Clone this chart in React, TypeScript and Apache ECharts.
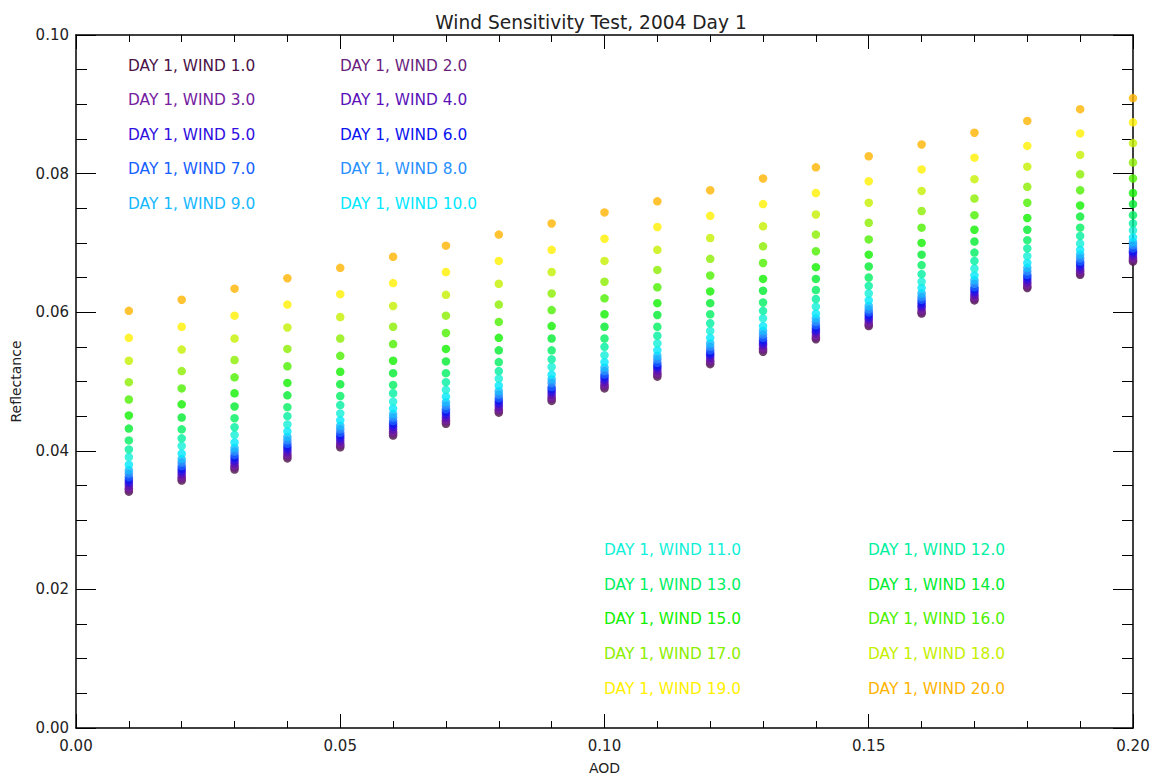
import React, { useEffect, useRef } from "react";
import * as echarts from "echarts";

const titleText = "Wind Sensitivity Test, 2004 Day 1";
const xAxisName = "AOD";
const yAxisName = "Reflectance";

const aodValues = [0.01, 0.02, 0.03, 0.04, 0.05, 0.06, 0.07, 0.08, 0.09, 0.10, 0.11, 0.12, 0.13, 0.14, 0.15, 0.16, 0.17, 0.18, 0.19, 0.20];
const windSpeeds = [1, 2, 3, 4, 5, 6, 7, 8, 9, 10, 11, 12, 13, 14, 15, 16, 17, 18, 19, 20];

const wind01 = [0.0341, 0.0357, 0.0373, 0.0389, 0.0405, 0.0422, 0.0439, 0.0455, 0.0472, 0.0490, 0.0507, 0.0525, 0.0543, 0.0561, 0.0580, 0.0598, 0.0617, 0.0635, 0.0654, 0.0673];
const wind02 = [0.0344, 0.0360, 0.0376, 0.0392, 0.0408, 0.0425, 0.0442, 0.0458, 0.0475, 0.0493, 0.0510, 0.0528, 0.0546, 0.0563, 0.0582, 0.0600, 0.0619, 0.0637, 0.0656, 0.0675];
const wind03 = [0.0346, 0.0362, 0.0378, 0.0394, 0.0410, 0.0427, 0.0444, 0.0460, 0.0477, 0.0495, 0.0512, 0.0530, 0.0548, 0.0566, 0.0585, 0.0603, 0.0622, 0.0640, 0.0659, 0.0678];
const wind04 = [0.0350, 0.0366, 0.0382, 0.0398, 0.0414, 0.0431, 0.0448, 0.0464, 0.0481, 0.0499, 0.0516, 0.0534, 0.0552, 0.0570, 0.0589, 0.0607, 0.0625, 0.0643, 0.0662, 0.0681];
const wind05 = [0.0354, 0.0370, 0.0386, 0.0402, 0.0418, 0.0435, 0.0452, 0.0468, 0.0485, 0.0503, 0.0520, 0.0538, 0.0555, 0.0573, 0.0592, 0.0610, 0.0629, 0.0647, 0.0666, 0.0685];
const wind06 = [0.0358, 0.0374, 0.0390, 0.0406, 0.0422, 0.0439, 0.0456, 0.0472, 0.0489, 0.0507, 0.0523, 0.0541, 0.0559, 0.0577, 0.0596, 0.0614, 0.0633, 0.0651, 0.0670, 0.0688];
const wind07 = [0.0362, 0.0378, 0.0394, 0.0410, 0.0426, 0.0443, 0.0460, 0.0476, 0.0492, 0.0510, 0.0527, 0.0545, 0.0563, 0.0581, 0.0600, 0.0618, 0.0636, 0.0654, 0.0673, 0.0692];
const wind08 = [0.0367, 0.0383, 0.0399, 0.0415, 0.0431, 0.0448, 0.0465, 0.0481, 0.0498, 0.0515, 0.0532, 0.0550, 0.0568, 0.0586, 0.0604, 0.0622, 0.0641, 0.0659, 0.0678, 0.0697];
const wind09 = [0.0372, 0.0388, 0.0404, 0.0420, 0.0436, 0.0453, 0.0470, 0.0486, 0.0503, 0.0520, 0.0537, 0.0555, 0.0573, 0.0591, 0.0609, 0.0627, 0.0646, 0.0664, 0.0683, 0.0701];
const wind10 = [0.0380, 0.0396, 0.0412, 0.0428, 0.0444, 0.0461, 0.0478, 0.0494, 0.0510, 0.0528, 0.0545, 0.0563, 0.0580, 0.0598, 0.0617, 0.0635, 0.0653, 0.0671, 0.0690, 0.0708];
const wind11 = [0.0391, 0.0407, 0.0423, 0.0438, 0.0454, 0.0471, 0.0488, 0.0504, 0.0521, 0.0538, 0.0555, 0.0573, 0.0591, 0.0608, 0.0627, 0.0644, 0.0663, 0.0681, 0.0699, 0.0718];
const wind12 = [0.0402, 0.0418, 0.0434, 0.0450, 0.0466, 0.0483, 0.0499, 0.0515, 0.0532, 0.0550, 0.0566, 0.0584, 0.0602, 0.0619, 0.0638, 0.0655, 0.0674, 0.0692, 0.0710, 0.0728];
const wind13 = [0.0415, 0.0431, 0.0447, 0.0463, 0.0479, 0.0495, 0.0512, 0.0528, 0.0545, 0.0562, 0.0579, 0.0597, 0.0614, 0.0632, 0.0650, 0.0668, 0.0686, 0.0704, 0.0722, 0.0740];
const wind14 = [0.0432, 0.0448, 0.0464, 0.0480, 0.0496, 0.0512, 0.0529, 0.0545, 0.0562, 0.0579, 0.0596, 0.0613, 0.0631, 0.0648, 0.0666, 0.0683, 0.0702, 0.0719, 0.0738, 0.0756];
const wind15 = [0.0451, 0.0467, 0.0483, 0.0498, 0.0514, 0.0530, 0.0547, 0.0563, 0.0580, 0.0597, 0.0613, 0.0630, 0.0648, 0.0665, 0.0683, 0.0700, 0.0719, 0.0736, 0.0754, 0.0772];
const wind16 = [0.0474, 0.0490, 0.0506, 0.0522, 0.0537, 0.0554, 0.0570, 0.0586, 0.0603, 0.0620, 0.0636, 0.0653, 0.0671, 0.0688, 0.0705, 0.0722, 0.0740, 0.0758, 0.0776, 0.0793];
const wind17 = [0.0499, 0.0515, 0.0531, 0.0547, 0.0562, 0.0579, 0.0595, 0.0611, 0.0627, 0.0644, 0.0661, 0.0677, 0.0695, 0.0712, 0.0729, 0.0746, 0.0764, 0.0781, 0.0799, 0.0816];
const wind18 = [0.0530, 0.0546, 0.0562, 0.0578, 0.0593, 0.0609, 0.0625, 0.0641, 0.0658, 0.0674, 0.0690, 0.0707, 0.0724, 0.0741, 0.0758, 0.0775, 0.0792, 0.0810, 0.0827, 0.0844];
const wind19 = [0.0563, 0.0579, 0.0595, 0.0611, 0.0626, 0.0642, 0.0658, 0.0674, 0.0690, 0.0706, 0.0723, 0.0739, 0.0756, 0.0772, 0.0789, 0.0806, 0.0823, 0.0840, 0.0858, 0.0874];
const wind20 = [0.0602, 0.0618, 0.0634, 0.0649, 0.0664, 0.0680, 0.0696, 0.0712, 0.0728, 0.0744, 0.0760, 0.0776, 0.0793, 0.0809, 0.0825, 0.0842, 0.0859, 0.0876, 0.0893, 0.0909];

const windSeries = [wind01, wind02, wind03, wind04, wind05, wind06, wind07, wind08, wind09, wind10, wind11, wind12, wind13, wind14, wind15, wind16, wind17, wind18, wind19, wind20];

const windColors = [
  "#4a1246", "#6a1f7e", "#7420a0", "#5a12b8", "#3010e0",
  "#0a14f0", "#1660ff", "#2890ff", "#14b8ff", "#00e8ff",
  "#10f0d8", "#00f0a0", "#00f060", "#00ec30", "#10f000",
  "#4cf000", "#8cee00", "#c4f000", "#fff000", "#ffb400",
];

const xTickLabels = ["0.00", "0.05", "0.10", "0.15", "0.20"];
const yTickLabels = ["0.00", "0.02", "0.04", "0.06", "0.08", "0.10"];

const FONT = "'DejaVu Sans', 'Liberation Sans', sans-serif";

export default function App() {
  const ref = useRef<HTMLDivElement>(null);

  useEffect(() => {
    if (!ref.current) return;
    const chart = echarts.init(ref.current, null, { renderer: "svg" });

    const names = windSpeeds.map((w) => `DAY 1, WIND ${w.toFixed(1)}`);

    const series = windSeries.map((vals, i) => ({
      type: "scatter",
      name: names[i],
      xAxisIndex: 0,
      yAxisIndex: 0,
      symbol: "circle",
      symbolSize: 8.5,
      itemStyle: { color: windColors[i] },
      data: aodValues.map((x, j) => [x, vals[j]]),
    }));

    const legendTexts = names.map((name, i) => {
      const bottom = i >= 10;
      const j = i % 10;
      const row = Math.floor(j / 2);
      const col = j % 2;
      const x = bottom ? (col === 0 ? 604 : 868) : (col === 0 ? 128 : 340);
      const y = bottom ? 550 + row * 34.7 : 66 + row * 34.4;
      return {
        type: "text",
        x,
        y,
        style: {
          text: name,
          fill: windColors[i],
          font: `15.4px ${FONT}`,
          verticalAlign: "middle",
          textAlign: "left",
        },
      };
    });

    const axisCommon = {
      type: "value",
      splitLine: { show: false },
      axisLine: { show: true, onZero: false, lineStyle: { color: "#000", width: 1.5 } },
    };

    const option = {
      animation: false,
      backgroundColor: "#fff",
      title: {
        text: titleText,
        left: 586,
        textAlign: "center",
        top: 8,
        textStyle: { fontFamily: FONT, fontSize: 18.6, fontWeight: "normal", color: "#222" },
      },
      grid: { left: 76, right: 21, top: 35, bottom: 49, containLabel: false, outerBoundsMode: "none" },
      xAxis: [
        {
          ...axisCommon,
          position: "bottom",
          min: 0,
          max: 0.2,
          interval: 0.05,
          name: xAxisName,
          nameLocation: "middle",
          nameGap: 33,
          nameTextStyle: { fontFamily: FONT, fontSize: 14, color: "#222" },
          axisTick: { show: true, inside: true, length: 14, lineStyle: { color: "#000" } },
          minorTick: { show: true, splitNumber: 5, length: 7, lineStyle: { color: "#000" } },
          axisLabel: {
            show: true,
            margin: 10,
            fontFamily: FONT,
            fontSize: 15,
            color: "#222",
            formatter: (v: number) => xTickLabels[Math.round(v / 0.05)] ?? "",
          },
        },
        {
          ...axisCommon,
          position: "top",
          min: 0,
          max: 0.2,
          interval: 0.05,
          axisTick: { show: true, inside: true, length: 14, lineStyle: { color: "#000" } },
          minorTick: { show: true, splitNumber: 5, length: 7, lineStyle: { color: "#000" } },
          axisLabel: { show: false },
        },
      ],
      yAxis: [
        {
          ...axisCommon,
          position: "left",
          min: 0,
          max: 0.1,
          interval: 0.02,
          name: yAxisName,
          nameLocation: "middle",
          nameGap: 53,
          nameTextStyle: { fontFamily: FONT, fontSize: 14, color: "#222" },
          axisTick: { show: true, inside: true, length: 20, lineStyle: { color: "#000" } },
          minorTick: { show: true, splitNumber: 4, length: 11, lineStyle: { color: "#000" } },
          axisLabel: {
            show: true,
            margin: 7,
            fontFamily: FONT,
            fontSize: 15,
            color: "#222",
            formatter: (v: number) => yTickLabels[Math.round(v / 0.02)] ?? "",
          },
        },
        {
          ...axisCommon,
          position: "right",
          min: 0,
          max: 0.1,
          interval: 0.02,
          axisTick: { show: true, inside: true, length: 20, lineStyle: { color: "#000" } },
          minorTick: { show: true, splitNumber: 4, length: 11, lineStyle: { color: "#000" } },
          axisLabel: { show: false },
        },
      ],
      series,
      graphic: legendTexts,
    };

    chart.setOption(option as any);
    return () => chart.dispose();
  }, []);

  return (
    <div
      ref={ref}
      style={{ position: "fixed", left: 0, top: 0, width: 1154, height: 777, background: "#fff" }}
    />
  );
}
